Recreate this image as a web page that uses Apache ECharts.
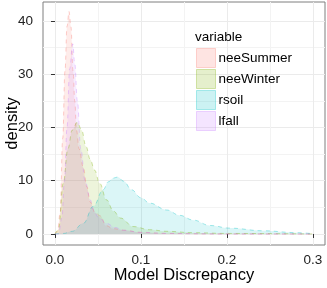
<!DOCTYPE html>
<html>
<head>
<meta charset="utf-8">
<script src="https://cdn.jsdelivr.net/npm/echarts@6/dist/echarts.min.js"></script>
<style>html,body{margin:0;padding:0;background:#fff}#c{width:327px;height:288px}</style>
</head>
<body>
<div id="c"></div>
<script>
// ---- data ----
const seriesNames = ['neeSummer', 'neeWinter', 'rsoil', 'lfall'];
const seriesColors = ['#F8766D', '#7CAE00', '#00BFC4', '#C77CFF'];

const neeSummerX = [0, 0.003, 0.006, 0.009, 0.0116, 0.014, 0.0163, 0.0185, 0.021, 0.023, 0.025, 0.028, 0.033, 0.037, 0.041, 0.0465, 0.053, 0.059, 0.068, 0.08, 0.1, 0.13, 0.18, 0.3];
const neeSummerY = [0, 0.5, 4, 18, 30.6, 39, 41.8, 39, 30.6, 25, 19.5, 16, 12.5, 8.9, 6, 4, 3.4, 1.6, 1.0, 0.7, 0.3, 0.1, 0.02, 0];

const neeWinterX = [0, 0.004, 0.0097, 0.015, 0.02, 0.026, 0.031, 0.036, 0.041, 0.046, 0.052, 0.06, 0.068, 0.076, 0.091, 0.11, 0.13, 0.16, 0.2, 0.3];
const neeWinterY = [0, 0.8, 9.6, 16, 19.5, 21, 19.5, 16.5, 14, 12, 9.5, 6.4, 4.3, 3.0, 1.4, 0.8, 0.5, 0.25, 0.1, 0];

const rsoilX = [0, 0.01, 0.02, 0.033, 0.0446, 0.056, 0.062, 0.068, 0.073, 0.08, 0.089, 0.1, 0.11, 0.13, 0.145, 0.161, 0.18, 0.203, 0.242, 0.281, 0.3];
const rsoilY = [0, 0.1, 0.5, 2.0, 5.2, 8.3, 9.8, 10.5, 10.7, 9.9, 8.3, 6.8, 5.8, 4.5, 3.5, 2.6, 1.6, 1.1, 0.6, 0.25, 0.05];

const lfallX = [0, 0.004, 0.008, 0.011, 0.014, 0.017, 0.0206, 0.023, 0.026, 0.03, 0.035, 0.041, 0.045, 0.05, 0.06, 0.07, 0.08, 0.1, 0.13, 0.2, 0.3];
const lfallY = [0, 0, 3, 10, 20, 31, 35.7, 32, 25, 16, 10, 6.4, 4.5, 3.2, 2, 1.2, 0.7, 0.3, 0.1, 0, 0];

const xTicks = [0, 0.1, 0.2, 0.3];
const xMinor = [0.05, 0.15, 0.25];
const yTicks = [0, 10, 20, 30, 40];
const yMinor = [5, 15, 25, 35];

// ---- chart ----
const xs = [neeSummerX, neeWinterX, rsoilX, lfallX];
const ys = [neeSummerY, neeWinterY, rsoilY, lfallY];

function rgba(hex, a) {
  const n = parseInt(hex.slice(1), 16);
  return 'rgba(' + ((n >> 16) & 255) + ',' + ((n >> 8) & 255) + ',' + (n & 255) + ',' + a + ')';
}

const FONT = '"Liberation Sans", Arial, sans-serif';
const XMIN = -0.01395, XMAX = 0.3140, YMIN = -2.07, YMAX = 43.57;

const chart = echarts.init(document.getElementById('c'), null, {renderer: 'canvas'});

const series = seriesNames.map((name, i) => ({
  name: name,
  type: 'line',
  xAxisIndex: 0,
  yAxisIndex: 0,
  data: xs[i].map((x, j) => [x, ys[i][j]]),
  smooth: 0.4,
  smoothMonotone: 'x',
  showSymbol: false,
  symbol: 'none',
  itemStyle: {color: seriesColors[i]},
  lineStyle: {color: rgba(seriesColors[i], 0.35), width: 1, type: [4, 4]},
  areaStyle: {color: rgba(seriesColors[i], 0.2), origin: 0},
  silent: true,
  animation: false
}));

const baseAxisX = {
  type: 'value', min: XMIN, max: XMAX,
  axisLine: {show: false}
};
const baseAxisY = {
  type: 'value', min: YMIN, max: YMAX,
  axisLine: {show: false}
};

chart.setOption({
  animation: false,
  backgroundColor: '#ffffff',
  grid: {left: 43, right: 2, top: 2, bottom: 43, show: true, borderColor: '#7f7f7f', borderWidth: 1,
    backgroundColor: 'transparent', containLabel: false, outerBoundsMode: 'none'},
  title: {
    text: 'variable', left: 195, top: 30, padding: 0,
    textStyle: {fontFamily: FONT, fontSize: 13.5, fontWeight: 'normal', color: '#000'}
  },
  legend: {
    orient: 'vertical', left: 196, top: 48, padding: 0,
    itemWidth: 19, itemHeight: 19, itemGap: 1, icon: 'rect',
    textStyle: {fontFamily: FONT, fontSize: 13.5, color: '#000', padding: [0, 0, 0, -2]},
    selectedMode: false,
    data: seriesNames.map((n, i) => ({
      name: n,
      itemStyle: {color: rgba(seriesColors[i], 0.2), borderColor: rgba(seriesColors[i], 0.3), borderWidth: 1},
      lineStyle: {opacity: 0}
    }))
  },
  xAxis: [
    Object.assign({}, baseAxisX, {
      name: 'Model Discrepancy', nameLocation: 'middle', nameGap: 22, nameMoveOverlap: false,
      nameTextStyle: {fontFamily: FONT, fontSize: 16.5, color: '#000'},
      axisTick: {show: true, length: 4, lineStyle: {color: '#333'}, customValues: xTicks},
      axisLabel: {show: true, customValues: xTicks, fontFamily: FONT, fontSize: 13.5, color: '#222', margin: 8,
        formatter: v => v.toFixed(1)},
      splitLine: {show: true, lineStyle: {color: '#ebebeb', width: 1}}
    }),
    Object.assign({}, baseAxisX, {
      axisTick: {show: false, customValues: xMinor},
      axisLabel: {show: false, customValues: xMinor},
      splitLine: {show: true, lineStyle: {color: '#f3f3f3', width: 1}}
    })
  ],
  yAxis: [
    Object.assign({}, baseAxisY, {
      name: 'density', nameLocation: 'middle', nameGap: 22.5, nameRotate: 90, nameMoveOverlap: false,
      nameTextStyle: {fontFamily: FONT, fontSize: 16.5, color: '#000'},
      axisTick: {show: true, length: 4, lineStyle: {color: '#333'}, customValues: yTicks},
      axisLabel: {show: true, customValues: yTicks, fontFamily: FONT, fontSize: 13.5, color: '#222', margin: 10},
      splitLine: {show: true, lineStyle: {color: '#ebebeb', width: 1}}
    }),
    Object.assign({}, baseAxisY, {
      axisTick: {show: false, customValues: yMinor},
      axisLabel: {show: false, customValues: yMinor},
      splitLine: {show: true, lineStyle: {color: '#f3f3f3', width: 1}}
    })
  ],
  series: series
});
</script>
</body>
</html>
